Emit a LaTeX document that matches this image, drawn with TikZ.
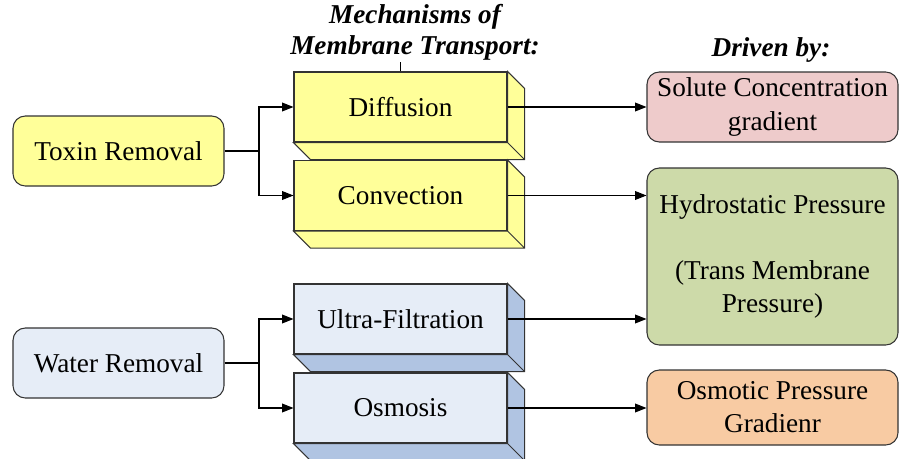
\documentclass[tikz,border=0pt]{standalone}
\usepackage{fontspec}
\setmainfont{Liberation Serif}
\usetikzlibrary{arrows.meta,positioning,calc}
\tikzset{every picture/.style={line width=0.6pt}}

\definecolor{toxinfill}{HTML}{FFFF99}
\definecolor{waterfill}{HTML}{E6EDF7}
\definecolor{waterside}{HTML}{B0C4E2}
\definecolor{solutefill}{HTML}{EECBCB}
\definecolor{hydrofill}{HTML}{CDDAA9}
\definecolor{osmofill}{HTML}{F8CBA3}
\definecolor{edgegray}{HTML}{333333}

\begin{document}
\begin{tikzpicture}[
    font=\fontsize{15.5}{18.8}\selectfont,
    link/.style={-{Triangle[length=6.5pt,width=5pt]},black},
    goal/.style={draw=edgegray,rounded corners=7pt,minimum width=4.22cm,minimum height=1.4cm,align=center,inner sep=0pt},
    slab/.style={draw=edgegray,minimum width=4.26cm,minimum height=1.4cm,inner sep=0pt},
    force/.style={draw=edgegray,rounded corners=7pt,minimum width=5.02cm,align=center,inner sep=0pt},
    head/.style={font=\fontsize{15.5}{17.8}\selectfont\bfseries\itshape,align=center,inner sep=1pt}
]
    \useasboundingbox (0,0) rectangle (17.98,-9.18);

    % Headings
    \node[head] (mech) at (8.3,-0.64) {Mechanisms of\\Membrane Transport:};
    \node[head] (driven) at (15.42,-1.0) {Driven by:};

    % What has to be removed
    \node[goal,fill=toxinfill] (toxin) at (2.37,-3.02) {Toxin Removal};
    \node[goal,fill=waterfill] (water) at (2.37,-7.26) {Water Removal};

    % Transport mechanisms (front faces)
    \node[slab,fill=toxinfill] (diff) at (8.01,-2.14) {Diffusion};
    \node[slab,fill=toxinfill] (conv) at (8.01,-3.91) {Convection};
    \node[slab,fill=waterfill] (ultra) at (8.01,-6.38) {Ultra-Filtration};
    \node[slab,fill=waterfill] (osmo) at (8.01,-8.16) {Osmosis};

    % Side and bottom faces
    \draw[draw=edgegray,fill=toxinfill] (diff.north east) -- ++(0.34,-0.34) -- ([shift={(0.34,-0.34)}]diff.south east)
        -- ([shift={(0.34,-0.34)}]diff.south west) -- (diff.south west) -- (diff.south east) -- cycle
        (diff.south east) -- ++(0.34,-0.34);
    \draw[draw=edgegray,fill=toxinfill] (conv.north east) -- ++(0.34,-0.34) -- ([shift={(0.34,-0.34)}]conv.south east)
        -- ([shift={(0.34,-0.34)}]conv.south west) -- (conv.south west) -- (conv.south east) -- cycle
        (conv.south east) -- ++(0.34,-0.34);
    \draw[draw=edgegray,fill=waterside] (ultra.north east) -- ++(0.34,-0.34) -- ([shift={(0.34,-0.34)}]ultra.south east)
        -- ([shift={(0.34,-0.34)}]ultra.south west) -- (ultra.south west) -- (ultra.south east) -- cycle
        (ultra.south east) -- ++(0.34,-0.34);
    \draw[draw=edgegray,fill=waterside] (osmo.north east) -- ++(0.34,-0.34) -- ([shift={(0.34,-0.34)}]osmo.south east)
        -- ([shift={(0.34,-0.34)}]osmo.south west) -- (osmo.south west) -- (osmo.south east) -- cycle
        (osmo.south east) -- ++(0.34,-0.34);

    % Driving forces
    \node[force,fill=solutefill,minimum height=1.4cm] (solute) at (15.45,-2.14) {Solute Concentration\\gradient};
    \node[force,fill=hydrofill,minimum height=3.54cm] (hydro) at (15.45,-5.13) {Hydrostatic Pressure\\[18.8pt](Trans Membrane\\Pressure)};
    \node[force,fill=osmofill,minimum height=1.5cm] (osmp) at (15.45,-8.15) {Osmotic Pressure\\Gradienr};

    % Heading tick
    \draw (diff.north) -- (diff.north |- mech.south);

    % Forks from the goals
    \coordinate (tsplit) at (5.18,-3.02);
    \coordinate (wsplit) at (5.18,-7.26);
    \draw (toxin.east) -- (tsplit);
    \draw[link] (tsplit) |- (diff.west);
    \draw[link] (tsplit) |- (conv.west);
    \draw (water.east) -- (wsplit);
    \draw[link] (wsplit) |- (ultra.west);
    \draw[link] (wsplit) |- (osmo.west);

    % Mechanism to force
    \draw[link] (diff.east) -- (diff.east -| solute.west);
    \draw[link] (conv.east) -- (conv.east -| hydro.west);
    \draw[link] (ultra.east) -- (ultra.east -| hydro.west);
    \draw[link] (osmo.east) -- (osmo.east -| osmp.west);
\end{tikzpicture}
\end{document}
